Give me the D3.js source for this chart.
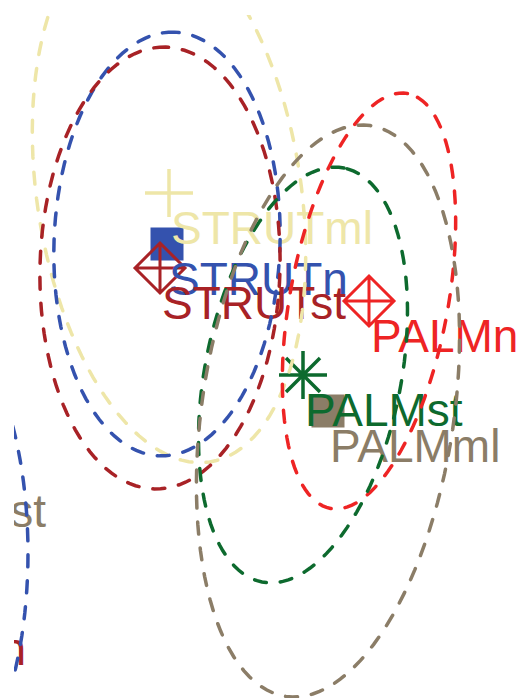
<!DOCTYPE html>
<html>
<head>
<meta charset="utf-8">
<script src="https://cdn.jsdelivr.net/npm/d3@7"></script>
<style>
  html, body { margin: 0; padding: 0; background: #fff; }
  svg { display: block; }
</style>
</head>
<body>
<div id="chart"></div>
<script>
// ordination centroids + dispersion ellipses, cropped view

const width = 521, height = 698;

// group centroids (ordination units)
const groups     = ['STRUTml', 'STRUTn', 'STRUTst', 'PALMn', 'PALMst', 'PALMml'];
const centroidX  = [-0.81, -0.83, -0.90, 1.19, 0.53, 0.78];
const centroidY  = [0.07, -0.44, -0.68, -1.01, -1.75, -2.11];

// ellipse semi axes and orientation (degrees from axis 1)
const ellipseMajor = [2.72, 2.12, 2.21, 2.11, 2.11, 2.885];
const ellipseMinor = [1.32, 1.13, 1.20, 0.79, 0.98, 1.26];
const ellipseAngle = [98.6, 88, 88.5, 79.5, 78.8, 81.6];

// part of a group that sits outside the visible window
const outsideEllipse = {x: -3.14, y: -3.53, major: 2.30, minor: 0.92, angle: 90};
const outsideLabels  = ['st', 'n'];
const outsideLabelX  = [-2.04, -2.24];
const outsideLabelY  = [-3.27, -4.65];

const groupColor = {
  STRUTml: '#EEE6A8',
  STRUTn:  '#3452AE',
  STRUTst: '#A82226',
  PALMn:   '#EE2424',
  PALMst:  '#0D6A2E',
  PALMml:  '#8B7D67',
};
const groupShape = {
  STRUTml: 'plus', STRUTn: 'square', STRUTst: 'diamond',
  PALMn: 'diamond', PALMst: 'asterisk', PALMml: 'square',
};
const outsideColors = ['#8B7D67', '#A82226'];

const x = d3.scaleLinear().domain([-2.5, 2.71]).range([0, width]);
const y = d3.scaleLinear().domain([2.0, -4.98]).range([0, height]);

const label_dx = 2, label_dy = 51;   // px from centroid to label baseline
const font = '"Liberation Sans", Arial, Helvetica, sans-serif';

const svg = d3.select('#chart').append('svg')
  .attr('width', width).attr('height', height);

svg.append('clipPath').attr('id', 'plotclip')
  .append('rect').attr('x', 14).attr('y', 15)
  .attr('width', width - 14).attr('height', height - 15);

const plot = svg.append('g').attr('clip-path', 'url(#plotclip)');

const data = groups.map((g, i) => ({
  group: g,
  cx: centroidX[i], cy: centroidY[i],
  major: ellipseMajor[i], minor: ellipseMinor[i], angle: ellipseAngle[i],
  color: groupColor[g], shape: groupShape[g],
}));

function ellipsePoints(e) {
  const phi = e.angle * Math.PI / 180;
  return d3.range(0, 120).map(k => {
    const t = k / 120 * 2 * Math.PI;
    const a = e.major * Math.cos(t), b = e.minor * Math.sin(t);
    return [e.x + a * Math.cos(phi) - b * Math.sin(phi),
            e.y + a * Math.sin(phi) + b * Math.cos(phi)];
  });
}

const line = d3.line()
  .x(d => x(d[0])).y(d => y(d[1]))
  .curve(d3.curveLinearClosed);

// centroid symbols
const s = 24;
const pts = plot.append('g').selectAll('g.pt')
  .data(data).join('g')
  .attr('class', 'pt')
  .attr('transform', d => `translate(${x(d.cx)},${y(d.cy)})`);

pts.each(function(d) {
  const g = d3.select(this);
  if (d.shape === 'square') {
    g.append('rect').attr('x', -16.5).attr('y', -16.5)
      .attr('width', 33).attr('height', 33).attr('fill', d.color);
  } else if (d.shape === 'plus') {
    g.append('path').attr('d', `M${-s},0H${s}M0,${-s}V${s}`)
      .attr('stroke', d.color).attr('stroke-width', 3.5).attr('fill', 'none');
  } else if (d.shape === 'diamond') {
    const r = 25;
    g.append('path')
      .attr('d', `M${-r},0L0,${-r}L${r},0L0,${r}Z M${-r},0H${r} M0,${-r}V${r}`)
      .attr('stroke', d.color).attr('stroke-width', 3).attr('fill', 'none');
  } else if (d.shape === 'asterisk') {
    const q = 17;
    g.append('path')
      .attr('d', `M${-s},0H${s}M0,${-s}V${s}M${-q},${-q}L${q},${q}M${-q},${q}L${q},${-q}`)
      .attr('stroke', d.color).attr('stroke-width', 3.5).attr('fill', 'none');
  }
});

// labels
plot.append('g').selectAll('text')
  .data(data).join('text')
  .attr('x', d => x(d.cx) + label_dx)
  .attr('y', d => y(d.cy) + label_dy)
  .attr('fill', d => d.color)
  .style('font-family', font)
  .style('font-size', '46px')
  .text(d => d.group);

plot.append('g').selectAll('text')
  .data(outsideLabels).join('text')
  .attr('x', (d, i) => x(outsideLabelX[i]))
  .attr('y', (d, i) => y(outsideLabelY[i]))
  .attr('text-anchor', 'end')
  .attr('fill', (d, i) => outsideColors[i])
  .style('font-family', font)
  .style('font-size', '46px')
  .text(d => d);

// dispersion ellipses on top
const dash = {'stroke-width': 3.5, 'stroke-dasharray': '12,14', 'stroke-linecap': 'round', fill: 'none'};

const ells = plot.append('g');
ells.append('path')
  .datum(ellipsePoints(outsideEllipse))
  .attr('d', line)
  .attr('stroke', groupColor.STRUTn)
  .call(sel => Object.entries(dash).forEach(([k, v]) => sel.attr(k, v)));

ells.selectAll('path.ell')
  .data(data).join('path')
  .attr('class', 'ell')
  .attr('d', d => line(ellipsePoints({x: d.cx, y: d.cy, major: d.major, minor: d.minor, angle: d.angle})))
  .attr('stroke', d => d.color)
  .call(sel => Object.entries(dash).forEach(([k, v]) => sel.attr(k, v)));
</script>
</body>
</html>
